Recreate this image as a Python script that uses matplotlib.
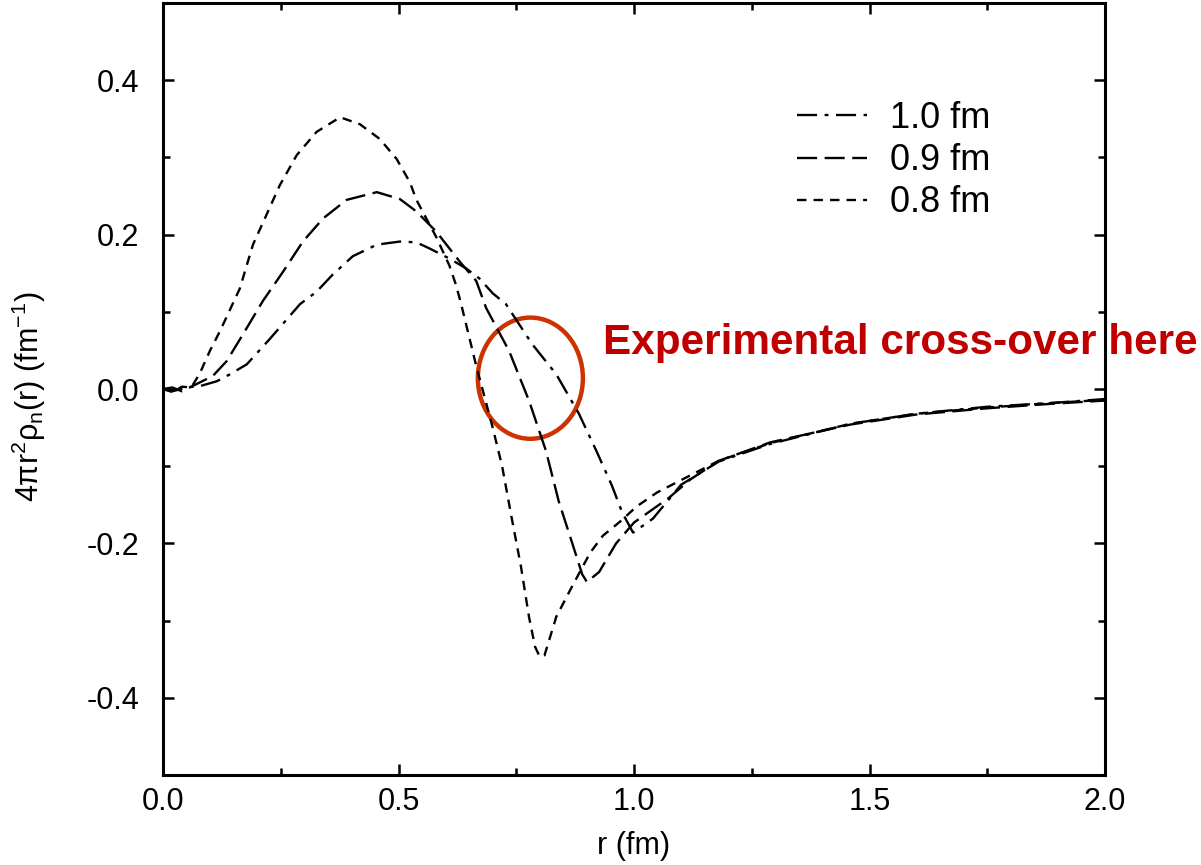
import numpy as np
import matplotlib
matplotlib.use('Agg')
from matplotlib import pyplot as plt
from matplotlib.patches import Ellipse

plt.rcParams['font.family'] = ['Liberation Sans', 'DejaVu Sans']
plt.rcParams['mathtext.default'] = 'regular'
plt.rcParams['axes.unicode_minus'] = False

# neutron density curves, one per cut-off radius
r_10 = [0.0, 0.02, 0.05, 0.08, 0.114, 0.142, 0.178, 0.227, 0.291, 0.326, 0.36, 0.403, 0.454, 0.503,
        0.538, 0.566, 0.608, 0.644, 0.672, 0.70, 0.728, 0.784, 0.835, 0.883, 0.92, 0.953, 0.975,
        0.998, 1.04, 1.1, 1.18, 1.29, 1.46, 1.6, 1.75, 1.89, 2.0]
y_10 = [0.0, -0.003, 0.002, 0.004, 0.01, 0.019, 0.032, 0.065, 0.110, 0.126, 0.148, 0.172, 0.187, 0.191,
        0.19, 0.182, 0.169, 0.156, 0.143, 0.124, 0.11, 0.058, 0.019, -0.032, -0.08, -0.125, -0.16,
        -0.186, -0.168, -0.124, -0.094, -0.071, -0.045, -0.032, -0.023, -0.018, -0.013]

r_09 = [0.0, 0.02, 0.04, 0.07, 0.106, 0.135, 0.17, 0.212, 0.255, 0.297, 0.34, 0.39, 0.454, 0.503,
        0.538, 0.58, 0.63, 0.665, 0.686, 0.735, 0.777, 0.813, 0.84, 0.869, 0.89, 0.90, 0.926, 0.962,
        1.0, 1.074, 1.12, 1.18, 1.29, 1.46, 1.6, 1.75, 1.89, 2.0]
y_09 = [0.0, 0.002, -0.003, 0.006, 0.017, 0.036, 0.071, 0.114, 0.152, 0.191, 0.221, 0.245, 0.255, 0.246,
        0.23, 0.204, 0.165, 0.14, 0.105, 0.049, -0.015, -0.08, -0.145, -0.2, -0.24, -0.25, -0.237, -0.2,
        -0.173, -0.141, -0.117, -0.093, -0.069, -0.046, -0.033, -0.025, -0.019, -0.015]

r_08 = [0.0, 0.02, 0.04, 0.06, 0.078, 0.10, 0.121, 0.163, 0.191, 0.22, 0.248, 0.284, 0.326, 0.376,
        0.418, 0.46, 0.496, 0.524, 0.538, 0.58, 0.608, 0.622, 0.633, 0.665, 0.70, 0.72, 0.74, 0.76,
        0.777, 0.79, 0.80, 0.81, 0.835, 0.864, 0.907, 0.934, 0.97, 1.006, 1.049, 1.1, 1.18, 1.29,
        1.46, 1.6, 1.75, 1.89, 2.0]
y_08 = [0.0, -0.004, 0.003, 0.002, 0.02, 0.05, 0.075, 0.130, 0.187, 0.226, 0.264, 0.303, 0.333, 0.352,
        0.343, 0.324, 0.298, 0.268, 0.245, 0.197, 0.16, 0.135, 0.11, 0.03, -0.05, -0.10, -0.166, -0.23,
        -0.295, -0.334, -0.347, -0.345, -0.295, -0.261, -0.212, -0.19, -0.172, -0.152, -0.134, -0.118,
        -0.093, -0.07, -0.045, -0.032, -0.024, -0.018, -0.014]

labels = ['1.0 fm', '0.9 fm', '0.8 fm']
note = 'Experimental cross-over here'

fig = plt.figure(figsize=(12.01, 8.65), dpi=100)
ax = fig.add_axes([163 / 1201, 1 - 775 / 865, 942 / 1201, 772 / 865])

lw = 1.7
ax.plot(r_10, y_10, color='k', lw=lw, dashes=(8.5, 3.2, 1.6, 3.2), label=labels[0])
ax.plot(r_09, y_09, color='k', lw=lw, dashes=(8.5, 3.2), label=labels[1])
ax.plot(r_08, y_08, color='k', lw=lw, dashes=(4.0, 3.0), label=labels[2])

ax.set_xlim(0, 2.0)
ax.set_ylim(-0.5, 0.5)
ax.set_xticks([0.0, 0.5, 1.0, 1.5, 2.0])
ax.set_xticks(np.arange(0.25, 2.0, 0.5), minor=True)
ax.set_yticks([-0.4, -0.2, 0.0, 0.2, 0.4])
ax.set_yticks([-0.5, -0.3, -0.1, 0.1, 0.3, 0.5], minor=True)
ax.xaxis.set_major_formatter(plt.FormatStrFormatter('%.1f'))
ax.yaxis.set_major_formatter(plt.FormatStrFormatter('%.1f'))

ax.tick_params(which='both', direction='in', top=True, right=True, width=1.8, labelsize=22)
ax.tick_params(which='major', length=8)
ax.tick_params(which='minor', length=5)
ax.tick_params(axis='y', pad=17)
ax.tick_params(axis='x', pad=9)
for sp in ax.spines.values():
    sp.set_linewidth(2.2)

ax.set_xlabel('r (fm)', fontsize=22)
ax.xaxis.set_label_coords(0.5, -0.072)
ax.set_ylabel('4πr$^2$ρ$_n$(r) (fm$^{-1}$)', fontsize=22)
ax.yaxis.set_label_coords(-0.122, 0.49)

ax.legend(loc='upper left', bbox_to_anchor=(0.673, 0.873), frameon=False, fontsize=26,
          handlelength=1.95, handletextpad=0.62, labelspacing=0.2, borderpad=0, borderaxespad=0)

ax.add_patch(Ellipse((0.78, 0.014), 0.223, 0.157, fill=False, edgecolor='#cc3300', lw=3.2))
fig.text(603 / 1201, 1 - 343 / 865, note, ha='left', va='center', fontsize=30.4,
         fontweight='bold', color='#c00000')

plt.savefig('out.png', dpi=100, facecolor='w')
